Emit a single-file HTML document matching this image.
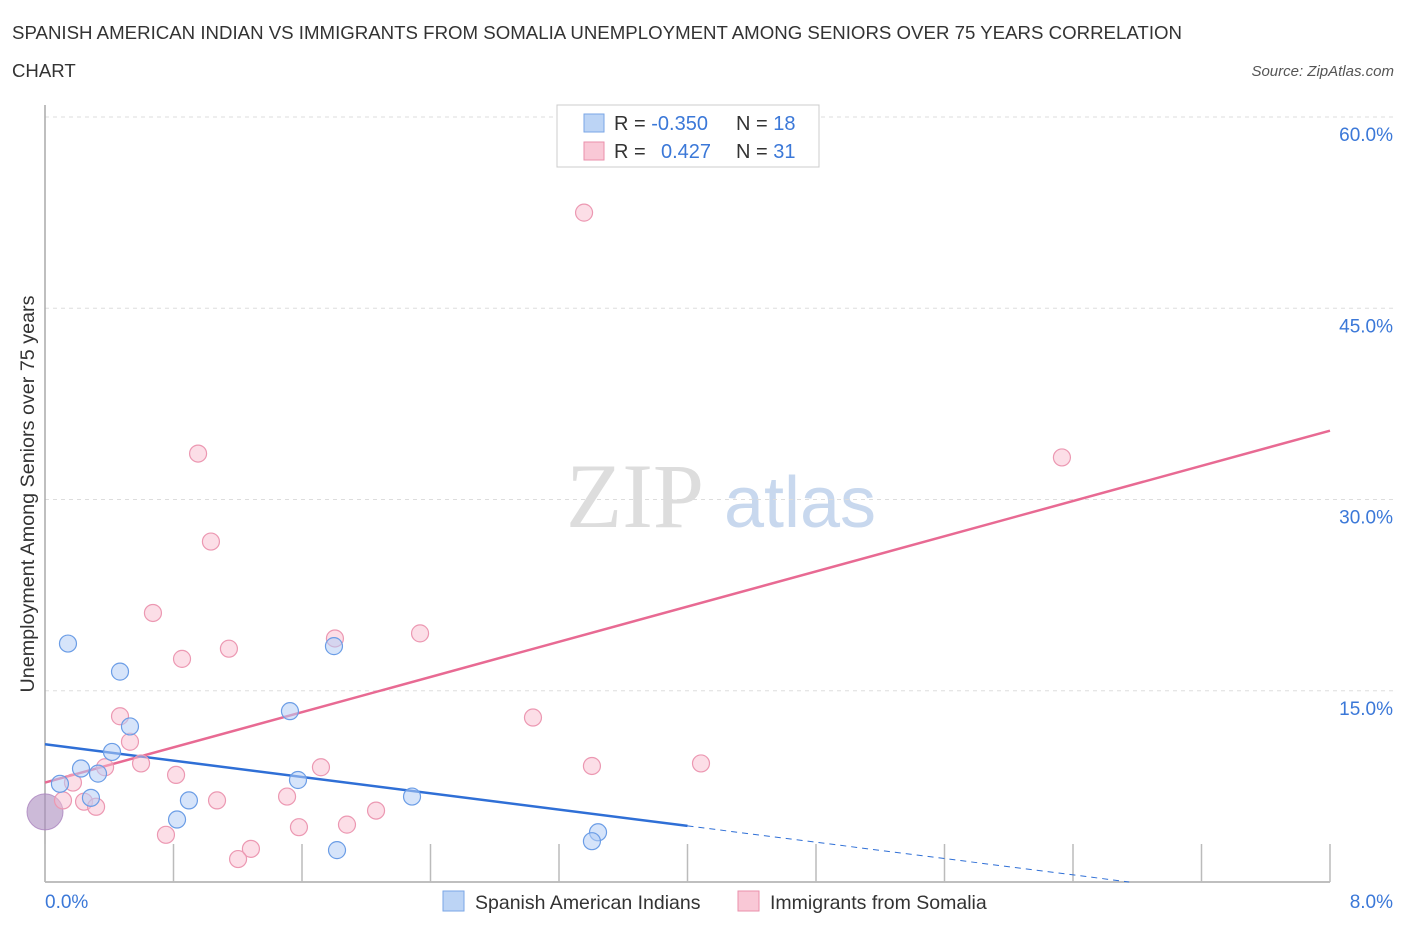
<!DOCTYPE html>
<html><head><meta charset="utf-8"><style>
body{margin:0;background:#fff;font-family:"Liberation Sans",sans-serif;}
svg text{font-family:"Liberation Sans",sans-serif;}
</style></head><body>
<svg id="chart" width="1406" height="930">
<text x="12" y="39" font-size="18.6" fill="#333" textLength="1170" lengthAdjust="spacingAndGlyphs">SPANISH AMERICAN INDIAN VS IMMIGRANTS FROM SOMALIA UNEMPLOYMENT AMONG SENIORS OVER 75 YEARS CORRELATION</text>
<text x="12" y="77" font-size="18.6" fill="#333">CHART</text>
<text x="1394" y="76" font-size="15" fill="#555" font-style="italic" text-anchor="end">Source: ZipAtlas.com</text>
<text x="34" y="494" font-size="19.5" fill="#333" text-anchor="middle" textLength="397" lengthAdjust="spacingAndGlyphs" transform="rotate(-90 34 494)">Unemployment Among Seniors over 75 years</text>
<g><text x="635" y="527" font-size="92" fill="#ddd" text-anchor="middle" style="font-family:'Liberation Serif',serif">ZIP</text><text x="800" y="527" font-size="72" fill="#c8d8ee" text-anchor="middle">atlas</text></g>
<g id="grid"></g><g id="axes"></g><g id="lines"></g><g id="pts"></g>
<g>
<rect x="557" y="105" width="262" height="62" fill="#fff" stroke="#ccc"/>
<rect x="584" y="114" width="20" height="18" fill="#bcd4f5" stroke="#7aa6e6"/>
<rect x="584" y="142" width="20" height="18" fill="#f9c8d6" stroke="#ea8fab"/>
<text x="614" y="130" font-size="20" fill="#333">R = <tspan fill="#3b78d8">-0.350</tspan></text>
<text x="736" y="130" font-size="20" fill="#333">N = <tspan fill="#3b78d8">18</tspan></text>
<text x="614" y="158" font-size="20" fill="#333">R = <tspan fill="#3b78d8" x="661">0.427</tspan></text>
<text x="736" y="158" font-size="20" fill="#333">N = <tspan fill="#3b78d8">31</tspan></text>
</g>
<g>
<rect x="443" y="891" width="21" height="20" fill="#bcd4f5" stroke="#7aa6e6"/>
<text x="475" y="909" font-size="19.5" fill="#333">Spanish American Indians</text>
<rect x="738" y="891" width="21" height="20" fill="#f9c8d6" stroke="#ea8fab"/>
<text x="770" y="909" font-size="19.5" fill="#333">Immigrants from Somalia</text>
</g>
</svg>
<script>
const xTicks=[0,0.8,1.6,2.4,3.2,4.0,4.8,5.6,6.4,7.2,8.0];
const yTicks=[15,30,45,60];
const yTickLabels=["15.0%","30.0%","45.0%","60.0%"];
const blueX=[0.143,0.467,0.529,0.417,0.330,0.224,0.093,0.286,0.896,0.822,1.525,1.575,1.799,1.818,2.285,3.443,3.405];
const blueY=[18.7,16.5,12.2,10.2,8.5,8.9,7.7,6.6,6.4,4.9,13.4,8.0,18.5,2.5,6.7,3.9,3.2];
const pinkX=[3.356,0.953,6.331,1.033,0.672,1.805,2.335,1.145,0.853,0.467,3.038,0.529,0.598,0.374,0.816,1.718,3.405,4.084,0.174,0.112,0.243,0.318,1.071,1.507,2.061,1.880,1.581,0.753,1.282,1.202];
const pinkY=[52.5,33.6,33.3,26.7,21.1,19.1,19.5,18.3,17.5,13.0,12.9,11.0,9.3,9.0,8.4,9.0,9.1,9.3,7.8,6.4,6.3,5.9,6.4,6.7,5.6,4.5,4.3,3.7,2.6,1.8];
const bigPoint=[0,5.5];
const pinkTrend=[7.8,35.4];
const blueTrend=[10.8,-1.6];
const NS="http://www.w3.org/2000/svg";
const sx=v=>45+v*160.625, sy=v=>882-v*12.75;
function mk(t,a,p){const e=document.createElementNS(NS,t);for(const k in a)e.setAttribute(k,a[k]);p.appendChild(e);return e;}
const grid=document.getElementById('grid'),axes=document.getElementById('axes'),lines=document.getElementById('lines'),pts=document.getElementById('pts');
yTicks.forEach((v,i)=>{
 const l=mk('line',{x1:45,x2:1395,y1:sy(v),y2:sy(v),stroke:'#ddd','stroke-dasharray':'4,4'},grid);
 
 
 const t=mk('text',{x:1393,y:sy(v)+24,'font-size':19,fill:'#3b78d8','text-anchor':'end'},axes);
 t.textContent=yTickLabels[i];
 
 
});
const ax=mk('line',{x1:45,x2:45,y1:105,y2:882,stroke:'#aaa','stroke-width':1.5},axes);


const xa=mk('line',{x1:45,x2:1330,y1:882,y2:882,stroke:'#aaa','stroke-width':1.5},axes);


xTicks.forEach(v=>{const l=mk('line',{x1:sx(v),x2:sx(v),y1:844,y2:882,stroke:'#bbb','stroke-width':1.5},axes);
 
 });
const t0=mk('text',{x:45,y:908,'font-size':19,fill:'#3b78d8'},axes);t0.textContent='0.0%';


const t1=mk('text',{x:1393,y:908,'font-size':19,fill:'#3b78d8','text-anchor':'end'},axes);t1.textContent='8.0%';


const pl=mk('line',{x1:sx(0),y1:sy(pinkTrend[0]),x2:sx(8),y2:sy(pinkTrend[1]),stroke:'#e86a93','stroke-width':2.5},lines);


const bEnd=-blueTrend[0]/blueTrend[1];
const bl=mk('line',{x1:sx(0),y1:sy(blueTrend[0]),x2:sx(4),y2:sy(blueTrend[0]+4*blueTrend[1]),stroke:'#2f6fd6','stroke-width':2.5},lines);


const bd=mk('line',{x1:sx(4),y1:sy(blueTrend[0]+4*blueTrend[1]),x2:sx(bEnd),y2:sy(0),stroke:'#2f6fd6','stroke-width':1,'stroke-dasharray':'6,5'},lines);


const bg=mk('circle',{cx:sx(bigPoint[0]),cy:sy(bigPoint[1]),r:18,fill:'rgba(170,140,190,0.6)',stroke:'rgba(170,130,190,0.8)'},pts);


pinkX.forEach((x,i)=>{const c=mk('circle',{cx:sx(x),cy:sy(pinkY[i]),r:8.5,fill:'rgba(249,190,208,0.5)',stroke:'#ec98b2','stroke-width':1.2},pts);
 
 });
blueX.forEach((x,i)=>{const c=mk('circle',{cx:sx(x),cy:sy(blueY[i]),r:8.5,fill:'rgba(180,205,245,0.55)',stroke:'#6b9de6','stroke-width':1.2},pts);
 
 });
</script>
</body></html>
